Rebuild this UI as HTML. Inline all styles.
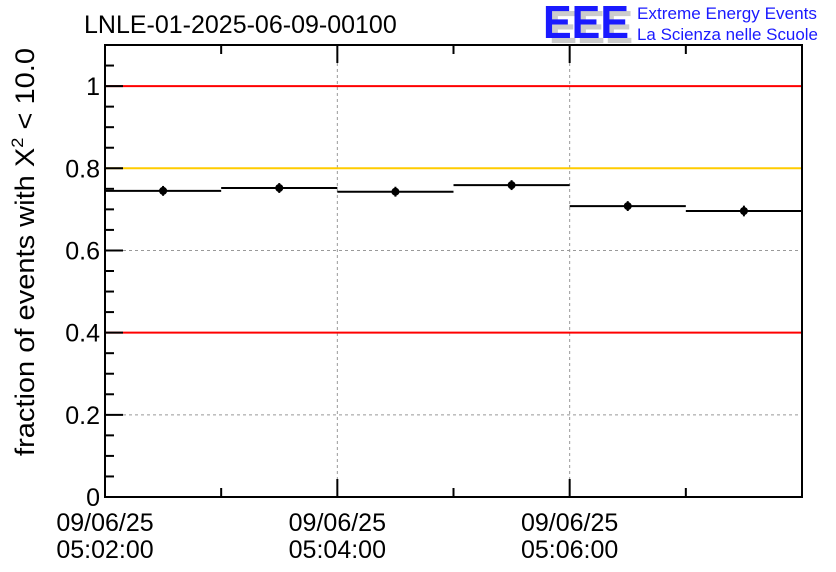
<!DOCTYPE html>
<html><head><meta charset="utf-8"><style>
body{margin:0;background:#fff;}
svg{display:block;font-family:"Liberation Sans",sans-serif;}
</style></head><body>
<svg id="c" width="836" height="572" viewBox="0 0 836 572">
<text x="84" y="33" font-size="25" fill="#000">LNLE-01-2025-06-09-00100</text>
<g>
<text x="549" y="43" font-size="46" font-weight="bold" fill="#ccc" textLength="84" lengthAdjust="spacingAndGlyphs">EEE</text>
<text x="543" y="38" font-size="46" font-weight="bold" fill="#1a1aff" textLength="86" lengthAdjust="spacingAndGlyphs">EEE</text>
<text x="637" y="19" font-size="17" fill="#1a1aff" textLength="180" lengthAdjust="spacingAndGlyphs">Extreme Energy Events</text>
<text x="637" y="40" font-size="17" fill="#1a1aff" textLength="181" lengthAdjust="spacingAndGlyphs">La Scienza nelle Scuole</text>
</g>
<text transform="translate(34,252) rotate(-90)" text-anchor="middle" font-size="27" fill="#000" textLength="408" lengthAdjust="spacingAndGlyphs">fraction of events with X<tspan dy="-11" font-size="17">2</tspan><tspan dy="11"> &lt; 10.0</tspan></text>
<g id="plot"></g>
</svg>
<script>
const binLabels = ["05:02","05:03","05:04","05:05","05:06","05:07"];
const fractions = [0.745, 0.752, 0.743, 0.759, 0.708, 0.696];
const errors = [0.012, 0.012, 0.012, 0.012, 0.012, 0.013];
const yTicks = [0, 0.2, 0.4, 0.6, 0.8, 1];
const yTickLabels = ["0","0.2","0.4","0.6","0.8","1"];
const xMajorLabels = [["09/06/25","05:02:00"],["09/06/25","05:04:00"],["09/06/25","05:06:00"]];
const xMajorIdx = [0, 2, 4];
const refLines = [{v:1,c:"#ff0000"},{v:0.8,c:"#ffcc00"},{v:0.4,c:"#ff0000"}];

const L=105,R=802,T=45,B=497,yMax=1.1,nBins=binLabels.length;
const xs=i=>L+(R-L)*i/nBins;
const ys=v=>B-(B-T)*v/yMax;
const g=document.getElementById('plot');
const NS="http://www.w3.org/2000/svg";
function mk(t,a){const e=document.createElementNS(NS,t);for(const k in a)e.setAttribute(k,a[k]);g.appendChild(e);return e;}
yTicks.forEach(v=>{if(v>0&&v<1){const e=mk('line',{x1:L,x2:R,y1:ys(v),y2:ys(v),stroke:'#999','stroke-dasharray':'3,3','stroke-width':1});

}});
xMajorIdx.forEach(i=>{if(i>0){const e=mk('line',{x1:xs(i),x2:xs(i),y1:T,y2:B,stroke:'#999','stroke-dasharray':'3,3','stroke-width':1});

}});
refLines.forEach(r=>{const e=mk('line',{x1:L,x2:R,y1:ys(r.v),y2:ys(r.v),stroke:r.c,'stroke-width':2});

});
fractions.forEach((v,i)=>{
const h=mk('line',{x1:xs(i),x2:xs(i+1),y1:ys(v),y2:ys(v),stroke:'#000','stroke-width':2});


const cx=(xs(i)+xs(i+1))/2;
const eb=mk('line',{x1:cx,x2:cx,y1:ys(v+errors[i]),y2:ys(v-errors[i]),stroke:'#000','stroke-width':2});


const p=mk('circle',{cx:cx,cy:ys(v),r:4,fill:'#000'});


});
const f=mk('rect',{x:L,y:T,width:R-L,height:B-T,fill:'none',stroke:'#000','stroke-width':2});


for(let k=0;k<=22;k++){const v=k*0.05;const len=(k%4===0)?18:9;
mk('line',{x1:L,x2:L+len,y1:ys(v),y2:ys(v),stroke:'#000','stroke-width':2});}
yTicks.forEach((v,i)=>{const t=mk('text',{x:L-5,y:ys(v)+9,'text-anchor':'end','font-size':25});t.textContent=yTickLabels[i];

});
for(let i=0;i<=nBins;i++){const major=xMajorIdx.includes(i);const len=major?18:9;
mk('line',{x1:xs(i),x2:xs(i),y1:B,y2:B-len,stroke:'#000','stroke-width':2});
mk('line',{x1:xs(i),x2:xs(i),y1:T,y2:T+len,stroke:'#000','stroke-width':2});}
xMajorIdx.forEach((i,j)=>{xMajorLabels[j].forEach((s,r)=>{const t=mk('text',{x:xs(i),y:531+r*27,'text-anchor':'middle','font-size':25});t.textContent=s;

});});
</script>
</body></html>
